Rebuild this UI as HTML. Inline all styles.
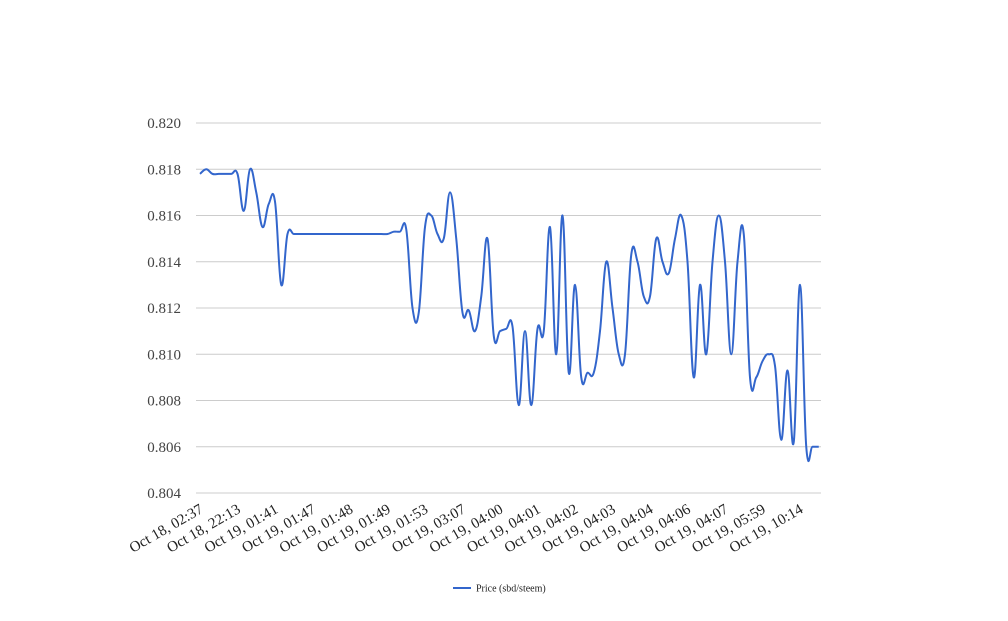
<!DOCTYPE html>
<html><head><meta charset="utf-8"><style>
body{margin:0;background:#fff;}
svg{font-family:"Liberation Serif",serif;}
</style></head><body>
<svg width="1008" height="616" xmlns="http://www.w3.org/2000/svg">
<g id="grid"></g>
<g id="ylab"></g>
<g id="xlab"></g>
<path id="line" fill="none" stroke="#3366cc" stroke-width="2"/>
<g>
<line x1="453" y1="588" x2="471" y2="588" stroke="#3366cc" stroke-width="2"/>
<text x="476" y="591.5" font-size="10" fill="#222">Price (sbd/steem)</text>
</g>
</svg>
<script>
const xLabels=["Oct 18, 02:37","Oct 18, 22:13","Oct 19, 01:41","Oct 19, 01:47","Oct 19, 01:48","Oct 19, 01:49","Oct 19, 01:53","Oct 19, 03:07","Oct 19, 04:00","Oct 19, 04:01","Oct 19, 04:02","Oct 19, 04:03","Oct 19, 04:04","Oct 19, 04:06","Oct 19, 04:07","Oct 19, 05:59","Oct 19, 10:14"];
const yTicks=[0.804,0.806,0.808,0.810,0.812,0.814,0.816,0.818,0.820];
const prices=[.8178,.8180,.8178,.8178,.8178,.8178,.8178,.8162,.8180,.8170,.8155,.8165,.8166,.8130,.8152,
.8152,.8152,.8152,.8152,.8152,.8152,.8152,.8152,.8152,.8152,.8152,.8152,.8152,.8152,.8152,.8152,
.8153,.8153,.8154,.8120,.8118,.8155,.8160,.8152,.8150,.8170,.8150,.8118,.8119,.8110,.8125,.8150,
.8108,.8110,.8111,.8112,.8078,.8110,.8078,.8111,.8110,.8155,.8100,.8160,.8092,.8130,.8090,.8092,
.8092,.8110,.8140,.8120,.8100,.8100,.8143,.8140,.8125,.8125,.8150,.8140,.8135,.8150,.8160,.8140,
.8090,.8130,.8100,.8140,.8160,.8140,.8100,.8140,.8152,.8090,.8090,.8097,.8100,.8095,.8063,.8093,
.8062,.8130,.8060,.8060,.8060];
const labelEvery=6;
const X0=200,DX=6.25,Y0=493,Y1=123,V0=0.804,V1=0.820;
const xs=i=>X0+i*DX;
const ys=v=>Y0-(v-V0)/(V1-V0)*(Y0-Y1);
const NS="http://www.w3.org/2000/svg";
const grid=document.getElementById('grid'),yl=document.getElementById('ylab'),xl=document.getElementById('xlab');
yTicks.forEach(t=>{
 const l=document.createElementNS(NS,'line');
 
 
 l.setAttribute('x1',196);l.setAttribute('x2',821);l.setAttribute('y1',ys(t));l.setAttribute('y2',ys(t));
 l.setAttribute('stroke','#cccccc');l.setAttribute('stroke-width','1');grid.appendChild(l);
 const tx=document.createElementNS(NS,'text');
 
 
 tx.setAttribute('x',181);tx.setAttribute('y',ys(t)+5);tx.setAttribute('text-anchor','end');
 tx.setAttribute('font-size','15');tx.setAttribute('fill','#444');tx.textContent=t.toFixed(3);yl.appendChild(tx);
});
xLabels.forEach((s,k)=>{
 const x=xs(k*labelEvery),y=505;
 const tx=document.createElementNS(NS,'text');
 
 
 tx.setAttribute('x',x);tx.setAttribute('y',y+8);tx.setAttribute('text-anchor','end');
 tx.setAttribute('font-size','15');tx.setAttribute('fill','#222');
 tx.setAttribute('transform','rotate(-30 '+x+' '+y+')');tx.textContent=s;xl.appendChild(tx);
});
const P=prices.map((v,i)=>[xs(i),ys(v)]);
let d='M'+P[0][0]+','+P[0][1];
for(let i=0;i<P.length-1;i++){
 const p0=P[Math.max(0,i-1)],p1=P[i],p2=P[i+1],p3=P[Math.min(P.length-1,i+2)];
 const t=0.5/3*1.2;
 d+=' C'+(p1[0]+(p2[0]-p0[0])*t)+','+(p1[1]+(p2[1]-p0[1])*t)+' '+(p2[0]-(p3[0]-p1[0])*t)+','+(p2[1]-(p3[1]-p1[1])*t)+' '+p2[0]+','+p2[1];
}
document.getElementById('line').setAttribute('d',d);
</script>
</body></html>
